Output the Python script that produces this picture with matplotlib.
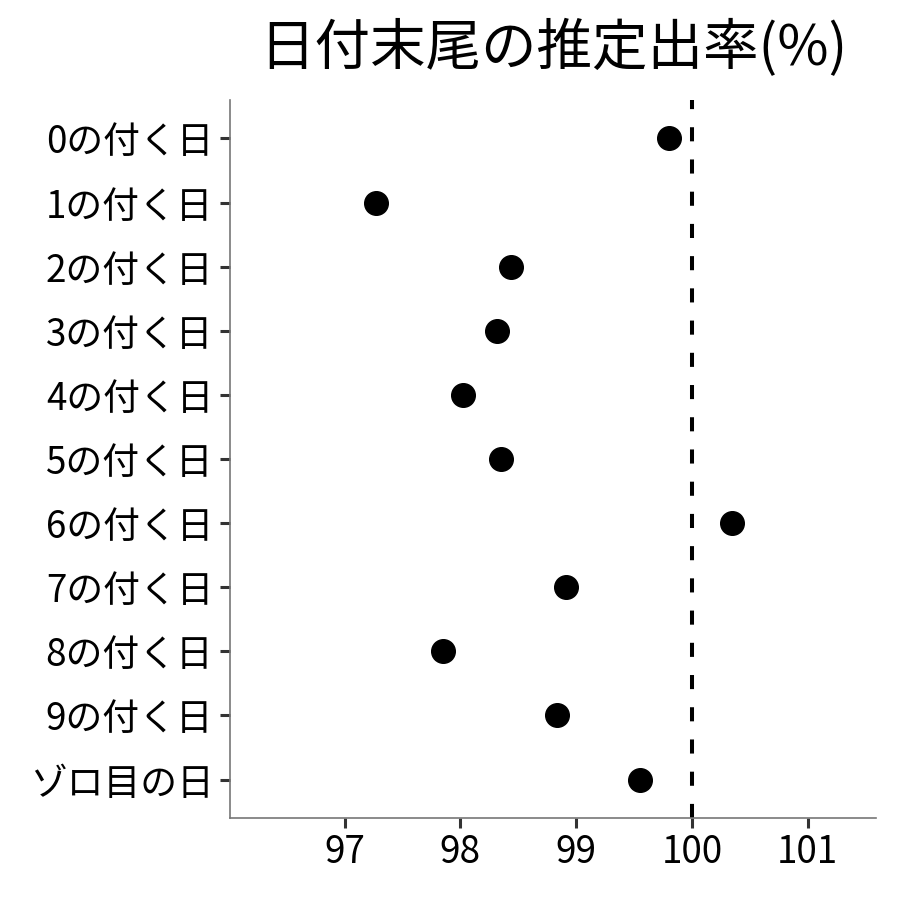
import matplotlib
matplotlib.use("Agg")
import matplotlib.pyplot as plt

plt.rcParams["font.family"] = ["Noto Sans CJK JP", "DejaVu Sans"]

# data
categories = ["0の付く日", "1の付く日", "2の付く日", "3の付く日", "4の付く日",
              "5の付く日", "6の付く日", "7の付く日", "8の付く日", "9の付く日",
              "ゾロ目の日"]
rates = [99.80, 97.27, 98.44, 98.32, 98.02, 98.35, 100.35, 98.91, 97.85, 98.83, 99.55]
xticks = [97, 98, 99, 100, 101]
ref_value = 100

fig = plt.figure(figsize=(9, 9), dpi=100)
ax = fig.add_axes([0.2556, 0.0911, 0.7178, 0.7978])

y = list(range(len(categories)))
ax.axvline(ref_value, color="black", linewidth=2.9, dashes=(3.5, 4.5))
ax.plot(rates, y, "o", color="black", markersize=17, linestyle="none", zorder=3)

ax.set_yticks(y, categories)
ax.set_xticks(xticks, [str(t) for t in xticks])
ax.set_xlim(96.01, 101.59)
ax.set_ylim(len(categories) - 0.4, -0.6)

for side in ("top", "right"):
    ax.spines[side].set_visible(False)
for side in ("left", "bottom"):
    ax.spines[side].set_color("#777777")
    ax.spines[side].set_linewidth(1.2)

ax.tick_params(axis="both", labelsize=26.5, length=7, width=2.2, color="#333333",
               labelcolor="black")
ax.tick_params(axis="y", pad=5)
ax.tick_params(axis="x", pad=4)

ax.set_title("日付末尾の推定出率(%)", fontsize=40, pad=25)

fig.savefig("out.png", dpi=100)
